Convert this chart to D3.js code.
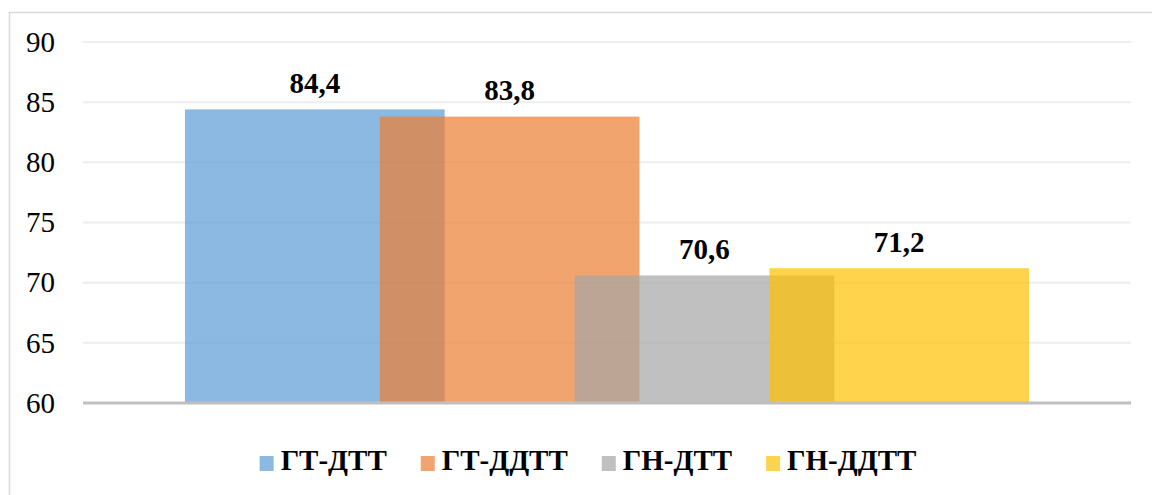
<!DOCTYPE html>
<html>
<head>
<meta charset="utf-8">
<script src="https://cdn.jsdelivr.net/npm/d3@7"></script>
<style>
  html, body { margin: 0; padding: 0; background: #ffffff; }
</style>
</head>
<body>
<svg id="chart" width="1152" height="495" font-family="Times New Roman"></svg>
<script>
// Series shown as overlapping bars in a single category
const seriesNames = ["ГТ-ДТТ", "ГТ-ДДТТ", "ГН-ДТТ", "ГН-ДДТТ"];
const seriesValues = [84.4, 83.8, 70.6, 71.2];
const seriesColors = ["#5b9bd5", "#ed7d31", "#a5a5a5", "#ffc000"];
const yTicks = [60, 65, 70, 75, 80, 85, 90];

const data = seriesNames.map((name, i) => ({ name, value: seriesValues[i], color: seriesColors[i] }));

const font = "Times New Roman";
const plot = { left: 83, right: 1131, top: 42, bottom: 403 };

function draw() {
  const svg = d3.select("#chart");

  // Chart frame
  svg.append("rect")
    .attr("x", 9.5).attr("y", 12.5)
    .attr("width", 1160).attr("height", 500)
    .attr("fill", "none")
    .attr("stroke", "#d9d9d9")
    .attr("stroke-width", 1.5);

  const y = d3.scaleLinear().domain([60, 90]).range([plot.bottom, plot.top]);

  const x = d3.scaleBand()
    .domain(seriesNames)
    .range([plot.left, plot.right])
    .paddingInner(0)
    .paddingOuter(0.69);

  const step = x.step();
  const barW = step / 0.75; // bars overlap by a quarter of their width

  // Horizontal gridlines
  svg.append("g")
    .selectAll("line")
    .data(yTicks.filter(t => t !== 60))
    .join("line")
    .attr("x1", plot.left).attr("x2", plot.right)
    .attr("y1", d => y(d)).attr("y2", d => y(d))
    .attr("stroke", "#eeeeee")
    .attr("stroke-width", 2);

  // Y axis tick labels
  const gy = svg.append("g")
    .attr("transform", `translate(${plot.left},0)`)
    .call(d3.axisLeft(y).tickValues(yTicks).tickSize(0).tickPadding(28));
  gy.select(".domain").remove();
  gy.attr("font-family", font).attr("font-size", 29);
  gy.selectAll("text").attr("fill", "#000").attr("font-family", font);

  // Bars
  svg.append("g")
    .selectAll("rect")
    .data(data)
    .join("rect")
    .attr("x", d => x(d.name) + step / 2 - barW / 2)
    .attr("y", d => y(d.value))
    .attr("width", barW)
    .attr("height", d => y(60) - y(d.value))
    .attr("fill", d => d.color)
    .attr("fill-opacity", 0.7);

  // Baseline
  svg.append("line")
    .attr("x1", plot.left).attr("x2", plot.right)
    .attr("y1", y(60)).attr("y2", y(60))
    .attr("stroke", "#bfbfbf")
    .attr("stroke-width", 3);

  // Value labels
  svg.append("g")
    .selectAll("text")
    .data(data)
    .join("text")
    .attr("x", d => x(d.name) + step / 2)
    .attr("y", d => y(d.value) - 16.5)
    .attr("text-anchor", "middle")
    .attr("font-family", font)
    .attr("font-weight", "bold")
    .attr("font-size", 29)
    .attr("fill", "#000")
    .text(d => d.value.toFixed(1).replace(".", ","));

  // Legend
  const legend = svg.append("g");
  const items = legend.selectAll("g")
    .data(data)
    .join("g");
  items.append("rect")
    .attr("width", 14).attr("height", 15)
    .attr("y", -14)
    .attr("fill", d => d.color)
    .attr("fill-opacity", 0.7);
  items.append("text")
    .attr("x", 21)
    .attr("font-family", font)
    .attr("font-weight", "bold")
    .attr("font-size", 29)
    .attr("fill", "#000")
    .text(d => d.name);

  let cursor = 0;
  items.each(function () {
    const g = d3.select(this);
    g.attr("transform", `translate(${cursor},0)`);
    const w = 21 + g.select("text").node().getComputedTextLength();
    cursor += w + 34;
  });
  const totalW = cursor - 34;
  legend.attr("transform", `translate(${588 - totalW / 2},470)`);
}

draw();
</script>
</body>
</html>
